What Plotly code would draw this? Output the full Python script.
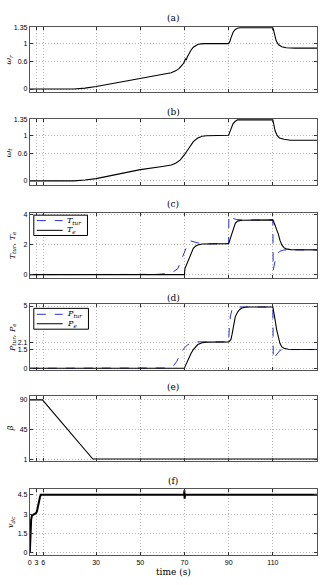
import plotly.graph_objects as go

W, H = 324, 585

# ---------------- data ----------------
t_wr = [0, 15, 20, 25, 30, 40, 50, 60, 64, 66, 67.5, 69, 69.6, 70, 70.4, 70.8, 71.2, 71.7, 72.2, 73, 74, 75, 76, 77.5, 79, 90, 90.5, 91, 92, 93, 94, 95, 97, 110, 110.3, 110.8, 111.5, 112.5, 114, 116, 120, 130]
wr = [0, 0, 0, 0.02, 0.055, 0.145, 0.235, 0.32, 0.36, 0.4, 0.45, 0.53, 0.58, 0.6, 0.67, 0.64, 0.7, 0.75, 0.8, 0.86, 0.92, 0.96, 0.98, 0.995, 1.0, 1.0, 1.04, 1.12, 1.25, 1.31, 1.34, 1.35, 1.35, 1.35, 1.3, 1.18, 1.06, 0.98, 0.93, 0.91, 0.9, 0.9]

t_wt = [0, 15, 20, 25, 30, 40, 50, 60, 64, 66, 68, 70, 72, 74, 76, 78, 80, 90, 90.5, 91, 92, 93, 94, 110, 110.5, 111, 112, 113, 115, 118, 130]
wt = [0, 0, 0, 0.02, 0.05, 0.15, 0.25, 0.32, 0.35, 0.39, 0.46, 0.58, 0.74, 0.87, 0.95, 0.99, 1.0, 1.01, 1.08, 1.16, 1.27, 1.32, 1.35, 1.35, 1.22, 1.11, 1.0, 0.95, 0.92, 0.9, 0.9]

t_ttur = [0, 55, 58, 62, 65, 67, 68.3, 69.5, 70.5, 71.5, 72.8, 74.5, 77, 80, 90, 90.1, 91, 92, 93.5, 96, 110, 110.15, 111, 112, 113, 115, 130]
ttur = [0, 0, 0.02, 0.07, 0.2, 0.4, 0.9, 1.35, 1.7, 2.05, 2.25, 2.17, 2.08, 2.05, 2.07, 3.95, 3.85, 3.75, 3.68, 3.65, 3.65, 0.3, 0.9, 1.35, 1.55, 1.65, 1.65]

t_te = [0, 70, 70.2, 71, 72, 73, 74, 75, 76, 78, 80, 90, 90.5, 91, 91.5, 92, 93, 94, 96, 110, 110.5, 111, 111.7, 112.5, 113.2, 114, 115, 116, 118, 130]
te = [0, 0, 0.4, 0.7, 1.1, 1.45, 1.75, 1.9, 1.98, 2.04, 2.05, 2.07, 2.3, 2.55, 2.8, 3.05, 3.42, 3.57, 3.63, 3.65, 3.5, 3.3, 3.0, 2.7, 2.3, 2.0, 1.8, 1.72, 1.67, 1.65]

t_ptur = [0, 58, 62, 64, 65.3, 66.5, 68.3, 69.8, 71.3, 72.8, 74.3, 76, 90, 90.3, 90.8, 91.5, 93, 110, 110.2, 111, 112, 113.3, 115, 130]
ptur = [0, 0, 0.02, 0.1, 0.26, 0.55, 1.2, 1.6, 1.86, 2.02, 2.12, 2.12, 2.12, 3.3, 4.2, 4.7, 4.92, 4.92, 0.7, 0.95, 1.2, 1.45, 1.5, 1.5]

t_pe = [0, 70, 70.3, 71, 72, 73, 74, 75, 76, 78, 80, 90, 91, 91.5, 92, 92.5, 93, 94, 95, 96, 98, 110, 110.4, 111, 111.7, 112.5, 113.2, 114, 115, 117, 130]
pe = [0, 0, 0.15, 0.45, 0.85, 1.2, 1.5, 1.75, 1.9, 2.05, 2.1, 2.12, 2.3, 2.7, 3.3, 3.8, 4.15, 4.5, 4.72, 4.84, 4.92, 4.92, 4.6, 3.9, 3.1, 2.5, 2.0, 1.73, 1.6, 1.52, 1.5]

t_beta = [0, 5.7, 28.5, 130]
beta = [90, 90, 1, 1]

t_vdc = [0, 0.3, 0.6, 1.0, 2.0, 2.6, 3.2, 3.7, 4.2, 4.6, 5.0, 6, 69.85, 69.95, 70.05, 70.15, 70.3, 130]
vdc = [0, 1.8, 2.6, 2.9, 3.0, 3.05, 3.2, 3.5, 4.0, 4.35, 4.5, 4.5, 4.5, 4.85, 4.2, 4.7, 4.5, 4.5]

x_ticks = [0, 3, 6, 30, 50, 70, 90, 110]
y_ticks = [
    [0, 0.6, 1, 1.35],
    [0, 0.6, 1, 1.35],
    [0, 2, 4],
    [0, 1.5, 2.1, 5],
    [1, 45, 90],
    [0, 1.5, 3, 4.5],
]
y_tick_text = [
    ["0", "0.6", "1", "1.35"],
    ["0", "0.6", "1", "1.35"],
    ["0", "2", "4"],
    ["0", "1.5", "2.1", "5"],
    ["1", "45", "90"],
    ["0", "1.5", "3", "4.5"],
]
titles = ["(a)", "(b)", "(c)", "(d)", "(e)", "(f)"]
y_labels = [
    "<i>ω<sub>r</sub></i>",
    "<i>ω<sub>t</sub></i>",
    "<i>T<sub>tur</sub></i>, <i>T<sub>e</sub></i>",
    "<i>P<sub>tur</sub></i>, <i>P<sub>e</sub></i>",
    "<i>β</i>",
    "<i>v<sub>dc</sub></i>",
]
legend_c = ["<i>T<sub>tur</sub></i>", "<i>T<sub>e</sub></i>"]
legend_d = ["<i>P<sub>tur</sub></i>", "<i>P<sub>e</sub></i>"]

# ---------------- layout geometry (pixels) ----------------
x_left, x_right = 28, 317
panels = [(24, 90), (117, 184), (212, 277), (304, 370), (396, 462), (490, 557)]
y_ranges = [[-0.07, 1.37], [-0.1, 1.37], [-0.2, 4.1], [-0.13, 5.13], [-2, 96.4], [-0.18, 4.96]]
title_y = [15, 110, 203, 298, 387, 482]
ylab_x = [7, 7, 11, 11, 8, 9]

SERIF = "DejaVu Serif, Liberation Serif, serif"
SANS = "Liberation Sans, Arial, sans-serif"

fig = go.Figure()

BLUE = "rgb(45,45,205)"
BLACK = "black"

traces = [
    (1, t_wr, wr, BLACK, "solid", 1.1),
    (2, t_wt, wt, BLACK, "solid", 1.1),
    (3, t_ttur, ttur, BLUE, "dash", 1.0),
    (3, t_te, te, BLACK, "solid", 1.1),
    (4, t_ptur, ptur, BLUE, "dash", 1.0),
    (4, t_pe, pe, BLACK, "solid", 1.1),
    (5, t_beta, beta, BLACK, "solid", 1.1),
    (6, t_vdc, vdc, BLACK, "solid", 2.0),
]
for (k, xs, ys, col, dash, w) in traces:
    sfx = "" if k == 1 else str(k)
    fig.add_trace(go.Scatter(
        x=xs, y=ys, mode="lines", line=dict(color=col, dash=dash, width=w),
        xaxis="x" + sfx, yaxis="y" + sfx, hoverinfo="skip", showlegend=False))

layout = dict(
    width=W, height=H,
    margin=dict(l=0, r=0, t=0, b=0),
    paper_bgcolor="white", plot_bgcolor="white",
    font=dict(family=SANS, size=7, color="black"),
    showlegend=False,
)

GRID = "#b8b8b8"
annotations = []
shapes = []
for i in range(6):
    k = i + 1
    sfx = "" if k == 1 else str(k)
    top, bot = panels[i]
    common = dict(
        ticks="inside", ticklen=3, tickcolor="#333",
        showline=True, mirror="ticks", linecolor="#555", linewidth=1,
        showgrid=True, gridcolor=GRID, griddash="1px,2px", gridwidth=1,
        zeroline=False, fixedrange=True, tickfont=dict(family=SANS, size=7),
    )
    layout["xaxis" + sfx] = dict(
        domain=[x_left / W, x_right / W], range=[0, 130], anchor="y" + sfx,
        tickmode="array", tickvals=x_ticks, ticktext=[str(v) for v in x_ticks],
        showticklabels=(k == 6), **common)
    layout["yaxis" + sfx] = dict(
        domain=[1 - bot / H, 1 - top / H], range=y_ranges[i], anchor="x" + sfx,
        tickmode="array", tickvals=y_ticks[i], ticktext=y_tick_text[i], **common)
    annotations.append(dict(
        text=titles[i], x=(x_left + x_right) / 2 / W, y=1 - title_y[i] / H,
        xref="paper", yref="paper", showarrow=False, xanchor="center", yanchor="middle",
        font=dict(family=SERIF, size=9)))
    annotations.append(dict(
        text=y_labels[i], x=ylab_x[i] / W, y=1 - (top + bot) / 2 / H,
        xref="paper", yref="paper", showarrow=False, xanchor="center", yanchor="middle",
        textangle=-90, font=dict(family=SERIF, size=8)))

annotations.append(dict(
    text="time (s)", x=(x_left + x_right) / 2 / W, y=1 - 574 / H,
    xref="paper", yref="paper", showarrow=False, xanchor="center", yanchor="middle",
    font=dict(family=SERIF, size=9)))

# compact legends drawn as boxes with sample lines and real text
def add_legend(box, rows, labels):
    x0, y0, x1, y1 = box
    shapes.append(dict(type="rect", xref="paper", yref="paper",
                       x0=x0 / W, x1=x1 / W, y0=1 - y0 / H, y1=1 - y1 / H,
                       line=dict(color="black", width=1), fillcolor="white", layer="above"))
    styles = [(BLUE, "dash"), (BLACK, "solid")]
    for (ry, lab, (col, dash)) in zip(rows, labels, styles):
        shapes.append(dict(type="line", xref="paper", yref="paper",
                           x0=(x0 + 3) / W, x1=(x0 + 29) / W, y0=1 - ry / H, y1=1 - ry / H,
                           line=dict(color=col, dash=dash, width=1), layer="above"))
        annotations.append(dict(text=lab, x=(x0 + 31) / W, y=1 - ry / H,
                                xref="paper", yref="paper", showarrow=False,
                                xanchor="left", yanchor="middle",
                                font=dict(family=SERIF, size=8)))

add_legend((32, 214, 86, 234.5), [219.5, 229.3], legend_c)
add_legend((32, 308, 87, 329), [314, 323.5], legend_d)

layout["annotations"] = annotations
layout["shapes"] = shapes

fig.update_layout(**layout)
fig.write_html("out.html")
